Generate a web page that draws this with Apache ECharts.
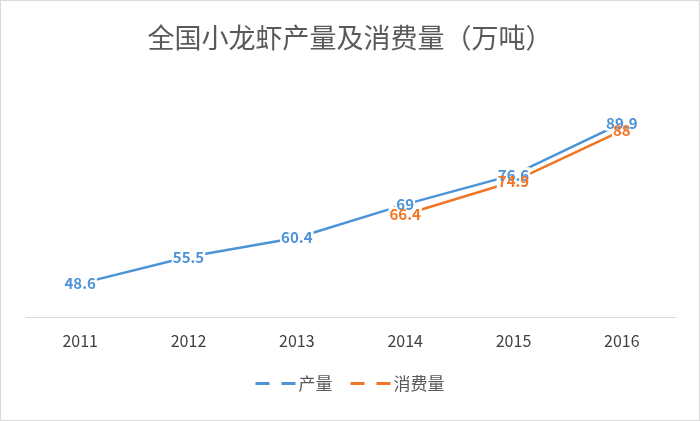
<!DOCTYPE html>
<html>
<head>
<meta charset="utf-8">
<script src="https://cdn.jsdelivr.net/npm/echarts@6/dist/echarts.min.js"></script>
<style>
html,body{margin:0;padding:0;background:#fff;}
#wrap{position:absolute;left:0;top:0;width:698px;height:419px;border:1px solid #d9d9d9;box-sizing:content-box;}
#chart{width:698px;height:419px;}
</style>
</head>
<body>
<div id="wrap"><div id="chart"></div></div>
<script>
var title = '全国小龙虾产量及消费量（万吨）';
var years = ['2011', '2012', '2013', '2014', '2015', '2016'];
var production = [48.6, 55.5, 60.4, 69, 76.6, 89.9];
var consumption = [null, null, null, 66.4, 74.9, 88];
var seriesNames = ['产量', '消费量'];

var FONT = '"Noto Sans CJK SC", "Noto Sans", sans-serif';
var BLUE = '#4C93D8';
var ORANGE = '#F07524';
var dashIcon = 'path://M0,0h14v3h-14z M26,0h14v3h-14z';

function labelStyle(color, bg) {
  var s = {
    show: true,
    position: 'inside',
    color: color,
    opacity: 1,
    fontSize: 15,
    fontWeight: 'bold',
    padding: [0, 1],
    lineHeight: 15,
    fontFamily: FONT
  };
  if (bg) s.backgroundColor = '#fff';
  return s;
}

function lineSeries(name, data, color) {
  return {
    name: name,
    type: 'line',
    data: data,
    symbol: 'none',
    lineStyle: { color: color, width: 2.5 },
    itemStyle: { color: color },
    z: 2
  };
}

function labelSeries(name, data, color, bg, z) {
  return {
    name: name,
    type: 'scatter',
    data: data,
    symbol: 'circle',
    symbolSize: 0,
    itemStyle: { color: color, opacity: 1 },
    silent: true,
    z: z,
    label: labelStyle(color, bg)
  };
}

var chart = echarts.init(document.getElementById('chart'));
chart.setOption({
  backgroundColor: '#fff',
  animation: false,
  textStyle: { fontFamily: FONT },
  title: {
    text: title,
    left: 'center',
    top: 18,
    textStyle: { fontFamily: FONT, fontSize: 27, fontWeight: 'normal', color: '#595959' }
  },
  legend: {
    data: seriesNames.map(function (n) { return { name: n, icon: dashIcon }; }),
    bottom: 23,
    left: 'center',
    itemWidth: 40,
    itemHeight: 3,
    itemGap: 18,
    textStyle: { fontFamily: FONT, fontSize: 17, color: '#595959', padding: [0, 0, 0, -2] }
  },
  grid: { left: 25, right: 23, top: 83, bottom: 103 },
  xAxis: {
    type: 'category',
    data: years,
    boundaryGap: true,
    axisLine: { show: true, lineStyle: { color: '#d9d9d9', width: 1 } },
    axisTick: { show: false },
    axisLabel: { color: '#404040', fontSize: 16, margin: 16, fontFamily: FONT }
  },
  yAxis: {
    type: 'value',
    min: 40,
    max: 100,
    interval: 10,
    show: false,
    splitLine: { show: false }
  },
  series: [
    lineSeries(seriesNames[0], production, BLUE),
    lineSeries(seriesNames[1], consumption, ORANGE),
    labelSeries('消费量标签底', consumption, 'rgba(0,0,0,0)', true, 4),
    labelSeries('产量标签', production, BLUE, true, 5),
    labelSeries('消费量标签', consumption, ORANGE, false, 6)
  ]
});
</script>
</body>
</html>
